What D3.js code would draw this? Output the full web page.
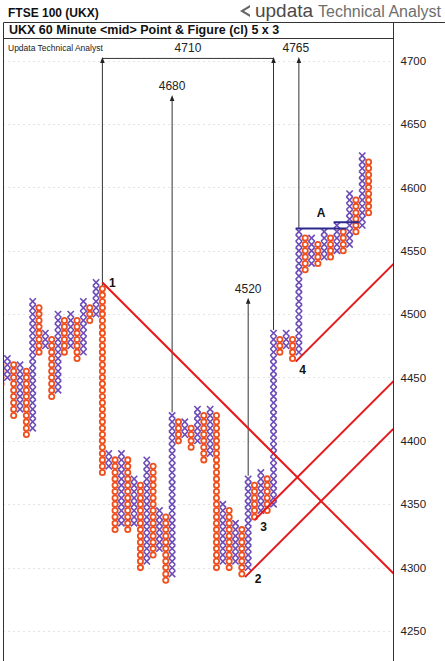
<!DOCTYPE html>
<html><head><meta charset="utf-8">
<script src="https://cdn.jsdelivr.net/npm/d3@7"></script>
<style>
html,body{margin:0;padding:0;background:#fff;}
svg{display:block;font-family:"Liberation Sans",Arial,sans-serif;}
</style></head>
<body><svg id="c" width="445" height="661"></svg>
<script>
// ---- data ----
const boxSize = 5;
const colTypes = ["O","X","O","X","O","X","O","X","O","X","O","X","O","X","O","X","O","X","O","X",
                  "O","X","O","X","O","X","O","X","O","X","O","X","O","X","O","X","O","X","O","X",
                  "O","X","O","X","O","X","O","X","O","X","O","X","O","X","O","X","O","X","O"];
const colHigh = [4460,4465,4460,4460,4455,4510,4505,4485,4480,4500,4495,4500,4495,4510,4505,4525,4520,4390,4385,4390,
                 4385,4370,4365,4385,4380,4345,4340,4420,4415,4415,4410,4425,4420,4425,4420,4350,4345,4335,4330,4370,
                 4365,4375,4370,4485,4480,4485,4480,4565,4560,4560,4555,4565,4560,4570,4565,4595,4590,4625,4620];
const colLow  = [4445,4450,4420,4425,4405,4410,4470,4475,4435,4440,4470,4475,4465,4470,4495,4500,4375,4380,4330,4335,
                 4330,4335,4300,4305,4310,4315,4290,4295,4400,4405,4395,4400,4385,4390,4300,4305,4300,4305,4295,4300,
                 4340,4345,4345,4350,4470,4475,4465,4470,4535,4540,4540,4545,4545,4550,4550,4555,4565,4570,4580];
const yTicks = [4250,4300,4350,4400,4450,4500,4550,4600,4650,4700];

// vertical count targets
const countLabels = ["4710","4765","4680","4520"];
const countTargets = [4710,4765,4680,4520];
const countCols = [[16,43],[47],[27],[39]];

// trend lines: start column, start price, direction
const trendNames = ["1","2","3","4"];
const trendStartCol = [16, 38.5, 40, 46.5];
const trendStartVal = [4525, 4292.5, 4337.5, 4462.5];
const trendDir = [-1, 1, 1, 1];

// "A" breakout lines
const aLineCols = [[46.5,54.5],[52.5,56.5]];
const aLineVals = [4567.5, 4572.5];

// ---- layout ----
const svg = d3.select("#c");
const W = 445, H = 661;
const plotL = 3.5, plotR = 393.5, plotT = 38.5, plotB = 661;
const y = d3.scaleLinear().domain([4250,4700]).range([631.0, 60.6]);
const boxPx = y(4700-boxSize) - y(4700);
const x = d3.scaleLinear().domain([0,1]).range([1.0, 1.0+boxPx]);

const X_COL = "#6c4cb8", O_COL = "#f0501c", RED = "#e5191b", NAVY = "#2c2a8c";

// titles
svg.append("text").attr("x",8).attr("y",17).attr("font-size",12).attr("font-weight","bold").attr("fill","#111").text("FTSE 100 (UKX)");
svg.append("path").attr("d","M240,11L250,5L250,17Z").attr("fill","#666");
svg.append("path").attr("d","M244,11L250,7.5L250,14.5Z").attr("fill","#fff");
svg.append("text").attr("x",255).attr("y",17).attr("font-size",19).attr("fill","#4a4a4a")
  .attr("textLength",58).attr("lengthAdjust","spacingAndGlyphs").text("updata");
svg.append("text").attr("x",318).attr("y",17).attr("font-size",16).attr("fill","#6e6e6e")
  .attr("textLength",123).attr("lengthAdjust","spacingAndGlyphs").text("Technical Analyst");

// frame
const frame = svg.append("g").attr("stroke","#333").attr("stroke-width",1).attr("fill","none");
frame.append("line").attr("x1",plotL).attr("x2",W).attr("y1",22.5).attr("y2",22.5);
frame.append("line").attr("x1",plotL).attr("x2",plotL).attr("y1",22.5).attr("y2",H);
frame.append("line").attr("x1",plotR).attr("x2",plotR).attr("y1",22.5).attr("y2",H);
frame.append("line").attr("x1",plotL).attr("x2",plotR).attr("y1",plotT).attr("y2",plotT);
svg.append("text").attr("x",9).attr("y",34).attr("font-size",12.5).attr("font-weight","bold").attr("fill","#111")
  .text("UKX 60 Minute <mid> Point & Figure (cl) 5 x 3");
svg.append("text").attr("x",8).attr("y",51).attr("font-size",8.5).attr("fill","#222").text("Updata Technical Analyst");

// clip
svg.append("clipPath").attr("id","pc").append("rect")
  .attr("x",plotL+0.5).attr("y",plotT+0.5).attr("width",plotR-plotL-1).attr("height",plotB-plotT);
const plot = svg.append("g").attr("clip-path","url(#pc)");

// grid
plot.append("g").selectAll("line").data(yTicks).join("line")
  .attr("x1",plotL).attr("x2",plotR).attr("y1",d=>Math.round(y(d))+0.5).attr("y2",d=>Math.round(y(d))+0.5)
  .attr("stroke","#c8c8c8").attr("stroke-dasharray","1,4");

// axis
const axis = d3.axisRight(y).tickValues(yTicks).tickSize(0).tickPadding(7).tickFormat(d3.format("d"));
const ag = svg.append("g").attr("transform",`translate(${plotR},0)`).call(axis);
ag.select(".domain").remove();
ag.selectAll("text").attr("font-size",11.5).attr("fill","#222").attr("font-family","Liberation Sans, Arial, sans-serif");

// boxes
const boxes = [];
colTypes.forEach((t,i)=>{
  for(let v=colLow[i]; v<=colHigh[i]; v+=boxSize) boxes.push({i,t,v});
});
const r = boxPx/2;
const gx = plot.append("g");
boxes.filter(b=>b.t==="O").forEach(b=>{
  gx.append("circle").attr("cx",x(b.i)).attr("cy",y(b.v)).attr("r",r-0.55)
    .attr("fill","none").attr("stroke",O_COL).attr("stroke-width",1.8);
});
boxes.filter(b=>b.t==="X").forEach(b=>{
  const cx=x(b.i), cy=y(b.v), h=r;
  gx.append("path").attr("d",`M${cx-h},${cy-h}L${cx+h},${cy+h}M${cx-h},${cy+h}L${cx+h},${cy-h}`)
    .attr("stroke",X_COL).attr("stroke-width",1.6).attr("fill","none");
});

// count lines
const cg = plot.append("g");
countLabels.forEach((lab,k)=>{
  const lv = Math.min(countTargets[k], 4710);
  const tip = y(lv) + 9;
  const cols = countCols[k];
  cols.forEach(c=>{
    const cx = x(c);
    cg.append("line").attr("x1",cx).attr("x2",cx).attr("y1",y(colHigh[c]+boxSize/2)).attr("y2",tip+3)
      .attr("stroke","#333").attr("stroke-width",1);
    cg.append("path").attr("d",`M${cx},${tip}L${cx-2.3},${tip+6}L${cx+2.3},${tip+6}Z`).attr("fill","#222");
  });
  if(cols.length>1){
    cg.append("line").attr("x1",x(cols[0])).attr("x2",x(cols[cols.length-1])).attr("y1",tip+1.5).attr("y2",tip+1.5)
      .attr("stroke","#333").attr("stroke-width",1);
  }
  const lx = d3.mean(cols, c=>x(c)) - (cols.length===1 && k===1 ? 3 : 0);
  cg.append("text").attr("x",lx).attr("y",y(lv)+4).attr("text-anchor","middle")
    .attr("font-size",12).attr("fill","#222").text(lab);
});

// trend lines
const tg = plot.append("g");
const labelOff = [[10,5],[13,6],[9,11],[7,12]];
trendNames.forEach((n,k)=>{
  const c1 = trendStartCol[k], v1 = trendStartVal[k];
  const c2 = x.invert(plotR);
  const v2 = v1 + trendDir[k]*(c2-c1)*boxSize;
  tg.append("line").attr("x1",x(c1)).attr("y1",y(v1)).attr("x2",x(c2)).attr("y2",y(v2))
    .attr("stroke",RED).attr("stroke-width",2);
  svg.append("text").attr("x",x(c1)+labelOff[k][0]).attr("y",y(v1)+labelOff[k][1]).attr("text-anchor","middle")
    .attr("font-size",12).attr("font-weight","bold").attr("fill","#111").text(n);
});

// A lines
aLineCols.forEach((cs,k)=>{
  plot.append("line").attr("x1",x(cs[0])).attr("x2",x(cs[1])).attr("y1",y(aLineVals[k])).attr("y2",y(aLineVals[k]))
    .attr("stroke",NAVY).attr("stroke-width",2);
});
svg.append("text").attr("x",(x(aLineCols[0][0])+x(aLineCols[0][1]))/2).attr("y",y(aLineVals[0])-12)
  .attr("text-anchor","middle").attr("font-size",12).attr("font-weight","bold").attr("fill","#111").text("A");
</script></body></html>
